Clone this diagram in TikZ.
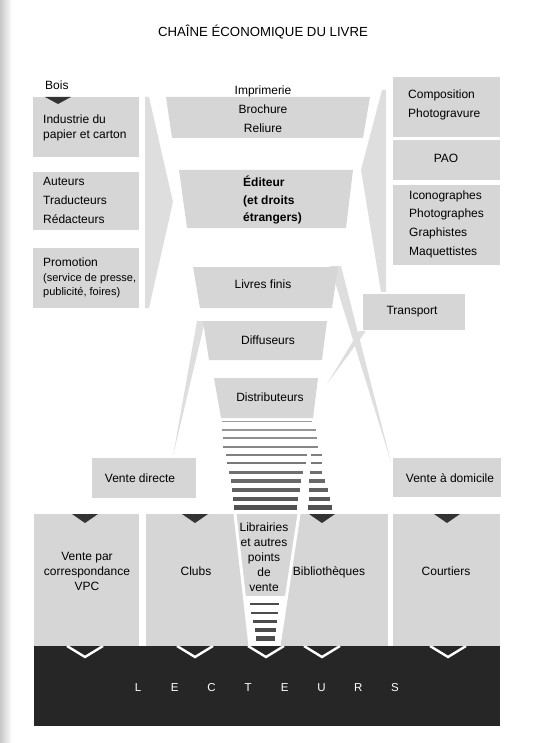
\documentclass[tikz,border=0pt]{standalone}
\usepackage{fontspec}
\setmainfont{Liberation Sans}
\usetikzlibrary{positioning}
\tikzset{
  chainbox/.style={fill=black!16},
  chainwedge/.style={fill=black!13},
  chainbar/.style={fill=black!85},
  chaintip/.style={fill=black!80},
  chainvee/.style={draw=white, line width=2.4pt},
  chaingap/.style={draw=white, line width=3pt},
  chaintext/.style={align=center, inner sep=0pt, font=\fontsize{12}{19}\selectfont},
  chaintight/.style={align=center, inner sep=0pt, font=\fontsize{12}{15}\selectfont},
  chainleft/.style={align=left, inner sep=0pt, anchor=west, font=\fontsize{12}{19}\selectfont},
  lecteur/.style={text=white, inner sep=0pt, font=\fontsize{11.5}{12}\selectfont}
}

\begin{document}
\begin{tikzpicture}[x=1pt, y=-1pt]
\useasboundingbox (0,0) rectangle (538,743);
\shade[left color=black!22, right color=white] (0,0) rectangle (12,743);

\node[inner sep=0pt, anchor=base, font=\fontsize{13.2}{14}\selectfont] (title) at (263,36.8) {CHAÎNE ÉCONOMIQUE DU LIVRE};

\fill[chainwedge] (145,97) -- (149,97) -- (173,202) -- (149,308) -- (145,308) -- cycle;
\fill[chainwedge] (382,90) -- (386,90) -- (386,292) -- (381,292) -- (361,170) -- cycle;
\fill[chainwedge] (197,321) -- (205,321) -- (173,456) -- cycle;
\fill[chainwedge] (330,266) -- (341,266) -- (391,462) -- cycle;
\fill[chainwedge] (359,331) -- (366,331) -- (327,384) -- cycle;

\fill[chainbox] (33,97) rectangle (139,157);
\fill[chainbox] (33,172) rectangle (139,230);
\fill[chainbox] (33,248) rectangle (139,308);
\fill[chaintip] (45,97) -- (71,97) -- (58,104) -- cycle;
\node[chainleft] (bois) at (45,85) {Bois};
\node[chainleft, font=\fontsize{12}{15}\selectfont] (papier) at (43,128) {Industrie du\\papier et carton};
\node[chainleft] (auteurs) at (43,200) {Auteurs\\Traducteurs\\Rédacteurs};
\node[chainleft, font=\fontsize{11}{14.5}\selectfont] (promo) at (43,278) {{\fontsize{12}{14.5}\selectfont Promotion}\\(service de presse,\\publicité, foires)};

\fill[chainbox] (166,97) -- (370,97) -- (363,138) -- (172,138) -- cycle;
\fill[chainbox] (179,170) -- (353,170) -- (346,228) -- (187,228) -- cycle;
\fill[chainbox] (193,267) -- (338,267) -- (332,308) -- (200,308) -- cycle;
\fill[chainbox] (203,321) -- (327,321) -- (322,360) -- (209,360) -- cycle;
\fill[chainbox] (214,378) -- (318,378) -- (313,418) -- (221,418) -- cycle;
\node[chaintext] (imprim) at (263,109) {Imprimerie\\Brochure\\Reliure};
\node[chainleft, font=\bfseries\fontsize{12}{17.5}\selectfont] (editeur) at (243,200) {Éditeur\\(et droits\\étrangers)};
\node[chaintext] (livres) at (263,284) {Livres finis};
\node[chaintext] (diffus) at (268,340) {Diffuseurs};
\node[chaintext] (distrib) at (270,397) {Distributeurs};

\fill[chainbox] (393,77) rectangle (500,137);
\fill[chainbox] (393,140) rectangle (500,180);
\fill[chainbox] (393,185) rectangle (500,265);
\fill[chainbox] (363,294) rectangle (465,330);
\node[chainleft] (compo) at (408,104.5) {Composition\\Photogravure};
\node[chaintext] (pao) at (446,158) {PAO};
\node[chainleft, font=\fontsize{12}{18.7}\selectfont] (icono) at (409,224) {Iconographes\\Photographes\\Graphistes\\Maquettistes};
\node[chaintext] (transport) at (412,312) {Transport};

\foreach \sy/\st/\sa/\sb [count=\i from 0] in {421/1/222/312, 430/1.2/222/316, 438/1.5/223/317, 447/1.8/223/318, 455/2/226/307, 463/2.5/227/306, 472/3/229/303, 481/3.5/231/301, 490/4/232/300, 499/4.5/233/298, 507/5/234/297}
  \fill[black!\the\numexpr 38+3*\i\relax] (\sa,{\sy-\st/2}) rectangle (\sb,{\sy+\st/2});
\foreach \sy/\st/\sa/\sb [count=\i from 4] in {455/2/311/322, 463/2.5/311/322, 472/3/310/322, 481/3.5/309/325, 490/4/309/328, 499/4.5/309/330, 507/5/308/332}
  \fill[black!\the\numexpr 38+3*\i\relax] (\sa,{\sy-\st/2}) rectangle (\sb,{\sy+\st/2});

\fill[chainbox] (92,458) rectangle (196,498);
\fill[chainbox] (393,458) rectangle (501,497);
\node[chaintext] (directe) at (140,478) {Vente directe};
\node[chaintext, anchor=base] (domicile) at (450,482.3) {Vente à domicile};

\fill[chainbox] (34,514) rectangle (139,646);
\fill[chainbox] (146,514) rectangle (388,646);
\fill[chainbox] (393,514) rectangle (500,646);
\fill[white] (244.3,596) -- (286.6,596) -- (279,646) -- (250,646) -- cycle;
\draw[chaingap] (235,514) -- (250,646);
\draw[chaingap] (299,514) -- (279,646);
\foreach \sy/\st/\sa/\sb in {604/2/250/279, 613/2.5/251/278, 621/3/253/277, 630/4/255/276, 638/5/256/275}
  \fill[black!70] (\sa,{\sy-\st/2}) rectangle (\sb,{\sy+\st/2});
\foreach \tx in {85,195,322,447}
  \fill[chaintip] ({\tx-13},514) -- ({\tx+13},514) -- (\tx,523) -- cycle;
\node[chaintight] (vpc) at (87,571) {Vente par\\correspondance\\VPC};
\node[chaintext, anchor=base] (clubs) at (196,575.3) {Clubs};
\node[chaintight] (librairies) at (264,557) {Librairies\\et autres\\points\\de\\vente};
\node[chaintext, anchor=base] (biblio) at (329,575.3) {Bibliothèques};
\node[chaintext, anchor=base] (courtiers) at (446,575.3) {Courtiers};

\fill[chainbar] (34,646) rectangle (500,726);
\begin{scope}
\clip (34,646) rectangle (500,726);
\foreach \vx in {85,195,266,322,448}
  \draw[chainvee] ({\vx-18},646) -- (\vx,657) -- ({\vx+18},646);
\end{scope}
\foreach \ch [count=\i from 0] in {L,E,C,T,E,U,R,S}
  \node[lecteur] (lect\i) at ({138+36.7*\i},688) {\ch};
\end{tikzpicture}
\end{document}
